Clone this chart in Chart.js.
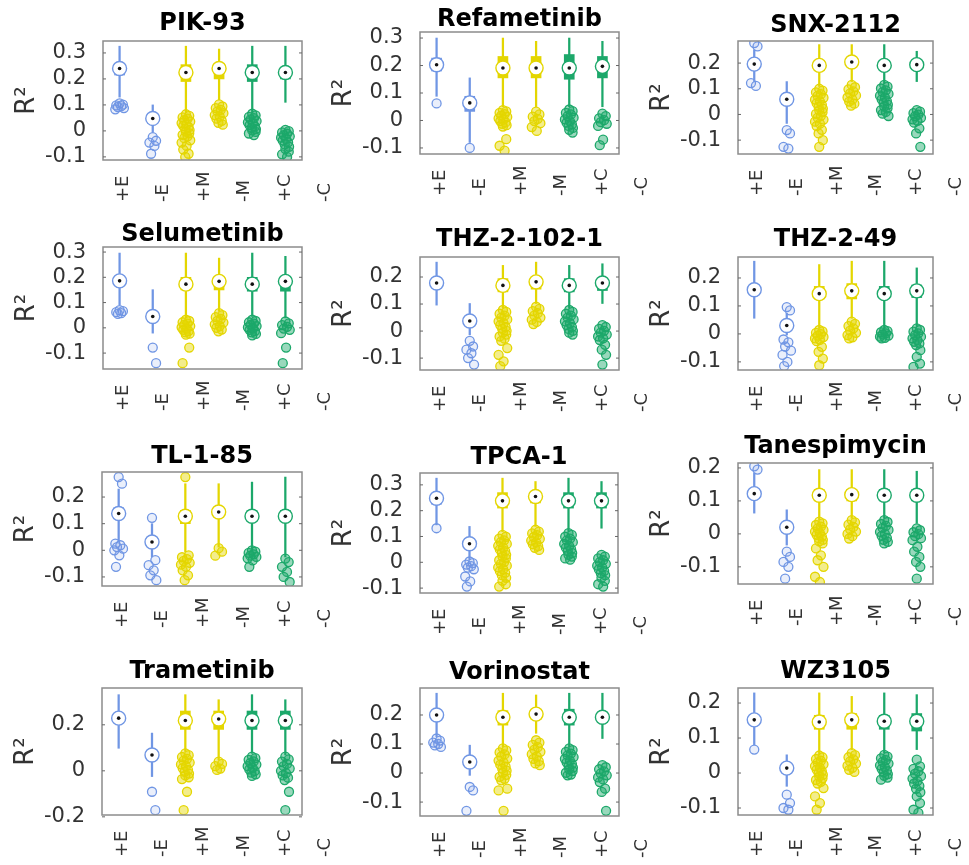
<!DOCTYPE html>
<html>
<head>
<meta charset="utf-8">
<script src="https://cdn.jsdelivr.net/npm/chart.js@4.4.1/dist/chart.umd.min.js"></script>
<style>
  html, body { margin: 0; padding: 0; background: #fff; }
  #wrap { position: relative; width: 969px; height: 865px; overflow: hidden; }
  #wrap canvas { position: absolute; }
</style>
</head>
<body>
<div id="wrap"></div>
<script>
// groups on the x axis
const groupLabels = ['+E', '-E', '+M', '-M', '+C', '-C'];

const drugNames = ['PIK-93', 'Refametinib', 'SNX-2112', 'Selumetinib', 'THZ-2-102-1', 'THZ-2-49',
  'TL-1-85', 'TPCA-1', 'Tanespimycin', 'Trametinib', 'Vorinostat', 'WZ3105'];

const yLimits = [[-0.112, 0.346], [-0.122, 0.322], [-0.154, 0.286], [-0.163, 0.32],
  [-0.144, 0.274], [-0.129, 0.275], [-0.134, 0.294], [-0.119, 0.346],
  [-0.152, 0.215], [-0.192, 0.36], [-0.148, 0.293], [-0.12, 0.243]];

const yTickValues = [[-0.1, 0, 0.1, 0.2, 0.3], [-0.1, 0, 0.1, 0.2, 0.3], [-0.1, 0, 0.1, 0.2], [-0.1, 0, 0.1, 0.2, 0.3],
  [-0.1, 0, 0.1, 0.2], [-0.1, 0, 0.1, 0.2], [-0.1, 0, 0.1, 0.2], [-0.1, 0, 0.1, 0.2, 0.3],
  [-0.1, 0, 0.1, 0.2], [-0.2, 0, 0.2], [-0.1, 0, 0.1, 0.2], [-0.1, 0, 0.1, 0.2]];

// per group: [lower whisker, q1, median, q3, upper whisker]
const pik93Stats = [[0.13, 0.215, 0.24, 0.255, 0.326], [-0.005, 0.03, 0.048, 0.06, 0.1], [0.07, 0.19, 0.225, 0.255, 0.326],
  [0.12, 0.2, 0.24, 0.26, 0.315], [0.07, 0.19, 0.225, 0.255, 0.326], [0.11, 0.2, 0.225, 0.245, 0.326]];
const pik93Outliers = [
  [0.106, 0.101, 0.098, 0.095, 0.092, 0.088, 0.083],
  [-0.024, -0.038, -0.045, -0.058, -0.088],
  [0.064, 0.058, 0.052, 0.047, 0.041, 0.036, 0.03, 0.025, 0.019, 0.014, 0.008, 0.003, -0.003, -0.009, -0.015, -0.021, -0.028, -0.036, -0.045, -0.058, -0.072, -0.088, -0.1],
  [0.102, 0.094, 0.088, 0.081, 0.075, 0.068, 0.061, 0.055, 0.047, 0.039, 0.031, 0.024],
  [0.066, 0.06, 0.054, 0.049, 0.044, 0.038, 0.033, 0.028, 0.022, 0.017, 0.012, 0.007, 0.002, -0.004, -0.01, -0.016],
  [0.004, -0.001, -0.006, -0.011, -0.016, -0.021, -0.026, -0.031, -0.037, -0.044, -0.052, -0.061, -0.07, -0.08, -0.09, -0.1]];

const refametinibStats = [[0.088, 0.18, 0.203, 0.227, 0.3], [-0.08, 0.033, 0.064, 0.088, 0.155], [0.05, 0.155, 0.191, 0.233, 0.3],
  [0.05, 0.155, 0.191, 0.233, 0.288], [0.05, 0.15, 0.191, 0.24, 0.3], [0.05, 0.155, 0.197, 0.233, 0.288]];
const refametinibOutliers = [
  [0.062],
  [-0.1],
  [0.038, 0.033, 0.028, 0.023, 0.018, 0.013, 0.008, 0.003, -0.002, -0.007, -0.012, -0.017, -0.022, -0.068, -0.092, -0.11],
  [0.032, 0.022, 0.014, 0.006, -0.002, -0.01, -0.024, -0.038],
  [0.04, 0.034, 0.028, 0.022, 0.016, 0.01, 0.004, -0.002, -0.008, -0.014, -0.02, -0.027, -0.034, -0.044],
  [0.025, 0.016, 0.008, 0.001, -0.006, -0.012, -0.02, -0.07, -0.09]];

const snx2112Stats = [[0.128, 0.18, 0.196, 0.212, 0.252], [-0.035, 0.04, 0.059, 0.075, 0.128], [0.109, 0.17, 0.191, 0.21, 0.272],
  [0.128, 0.19, 0.204, 0.22, 0.272], [0.12, 0.175, 0.191, 0.21, 0.272], [0.128, 0.18, 0.194, 0.21, 0.246]];
const snx2112Outliers = [
  [0.278, 0.265, 0.122, 0.111],
  [-0.061, -0.074, -0.126, -0.133],
  [0.1, 0.093, 0.086, 0.079, 0.072, 0.065, 0.058, 0.051, 0.044, 0.037, 0.03, 0.023, 0.016, 0.009, 0.002, -0.005, -0.012, -0.02, -0.028, -0.036, -0.045, -0.06, -0.074, -0.1, -0.126],
  [0.115, 0.106, 0.098, 0.09, 0.082, 0.074, 0.066, 0.058, 0.05, 0.042, 0.034],
  [0.115, 0.108, 0.101, 0.094, 0.087, 0.08, 0.073, 0.066, 0.059, 0.052, 0.045, 0.038, 0.031, 0.024, 0.017, 0.01, 0.003, -0.006],
  [0.017, 0.011, 0.005, -0.001, -0.007, -0.013, -0.019, -0.025, -0.032, -0.054, -0.074, -0.126]];

const selumetinibStats = [[0.091, 0.17, 0.186, 0.2, 0.296], [-0.021, 0.03, 0.045, 0.06, 0.151], [0.039, 0.15, 0.173, 0.2, 0.296],
  [0.065, 0.15, 0.184, 0.2, 0.276], [0.045, 0.145, 0.173, 0.2, 0.296], [0.039, 0.145, 0.184, 0.2, 0.283]];
const selumetinibOutliers = [
  [0.07, 0.066, 0.062, 0.058, 0.055],
  [-0.078, -0.14],
  [0.032, 0.027, 0.022, 0.017, 0.012, 0.007, 0.002, -0.003, -0.008, -0.013, -0.018, -0.023, -0.027, -0.078, -0.14],
  [0.058, 0.05, 0.042, 0.035, 0.028, 0.021, 0.014, 0.007, 0.0, -0.007, -0.014],
  [0.032, 0.027, 0.022, 0.017, 0.012, 0.007, 0.002, -0.003, -0.008, -0.013, -0.018, -0.024, -0.03],
  [0.025, 0.018, 0.011, 0.004, -0.003, -0.008, -0.021, -0.078, -0.14]];

const thz2102Stats = [[0.096, 0.16, 0.178, 0.195, 0.255], [-0.014, 0.02, 0.037, 0.05, 0.102], [0.084, 0.145, 0.169, 0.194, 0.243],
  [0.102, 0.155, 0.182, 0.2, 0.255], [0.084, 0.145, 0.169, 0.194, 0.243], [0.102, 0.15, 0.178, 0.185, 0.249]];
const thz2102Outliers = [
  [],
  [-0.036, -0.057, -0.069, -0.082, -0.1, -0.124],
  [0.078, 0.071, 0.064, 0.057, 0.05, 0.043, 0.036, 0.029, 0.022, 0.015, 0.008, 0.001, -0.006, -0.013, -0.02, -0.028, -0.036, -0.063, -0.088, -0.112, -0.13],
  [0.09, 0.082, 0.074, 0.066, 0.058, 0.05, 0.042, 0.034, 0.026],
  [0.078, 0.071, 0.064, 0.057, 0.05, 0.043, 0.036, 0.029, 0.022, 0.015, 0.008, 0.001, -0.006, -0.013],
  [0.022, 0.015, 0.008, 0.001, -0.006, -0.013, -0.02, -0.027, -0.033, -0.051, -0.069, -0.088, -0.124]];

const thz249Stats = [[0.056, 0.14, 0.158, 0.175, 0.26], [-0.004, 0.015, 0.03, 0.045, 0.074], [0.02, 0.125, 0.144, 0.17, 0.248],
  [0.056, 0.125, 0.154, 0.18, 0.26], [0.02, 0.13, 0.144, 0.17, 0.26], [0.026, 0.13, 0.154, 0.175, 0.236]];
const thz249Outliers = [
  [],
  [0.096, 0.084, -0.02, -0.03, -0.045, -0.06, -0.075, -0.1, -0.115],
  [0.014, 0.009, 0.004, -0.001, -0.006, -0.011, -0.016, -0.021, -0.026, -0.046, -0.064, -0.088, -0.112],
  [0.044, 0.036, 0.028, 0.02, 0.012, 0.004, -0.004, -0.012, -0.016],
  [0.014, 0.01, 0.006, 0.002, -0.002, -0.006, -0.01, -0.014, -0.016],
  [0.02, 0.014, 0.008, 0.002, -0.004, -0.01, -0.016, -0.022, -0.028, -0.034, -0.04, -0.058, -0.082, -0.106, -0.118]];

const tl185Stats = [[0.031, 0.12, 0.138, 0.16, 0.23], [-0.025, 0.015, 0.031, 0.05, 0.1], [-0.006, 0.1, 0.128, 0.15, 0.25],
  [0.012, 0.125, 0.144, 0.155, 0.25], [0.0, 0.11, 0.128, 0.15, 0.256], [-0.025, 0.11, 0.128, 0.15, 0.275]];
const tl185Outliers = [
  [0.275, 0.25, 0.025, 0.019, 0.012, 0.006, 0.0, -0.019, -0.062],
  [0.122, -0.037, -0.056, -0.075, -0.094, -0.112],
  [0.275, -0.019, -0.026, -0.033, -0.04, -0.047, -0.054, -0.062, -0.075, -0.094, -0.112],
  [0.008, -0.005, -0.02],
  [0.0, -0.005, -0.01, -0.015, -0.02, -0.025, -0.03, -0.038, -0.062],
  [-0.031, -0.044, -0.062, -0.081, -0.1, -0.119]];

const tpca1Stats = [[0.145, 0.225, 0.248, 0.26, 0.326], [0.01, 0.055, 0.072, 0.09, 0.139], [0.119, 0.21, 0.238, 0.27, 0.326],
  [0.139, 0.23, 0.255, 0.275, 0.313], [0.119, 0.21, 0.238, 0.27, 0.326], [0.132, 0.21, 0.238, 0.27, 0.313]];
const tpca1Outliers = [
  [0.132],
  [0.003, -0.003, -0.009, -0.015, -0.021, -0.027, -0.055, -0.074, -0.094],
  [0.106, 0.099, 0.092, 0.085, 0.078, 0.071, 0.064, 0.057, 0.05, 0.043, 0.036, 0.029, 0.022, 0.015, 0.008, 0.001, -0.006, -0.013, -0.02, -0.027, -0.034, -0.041, -0.05, -0.06, -0.072, -0.085, -0.094],
  [0.126, 0.119, 0.112, 0.105, 0.098, 0.091, 0.084, 0.077, 0.07, 0.063, 0.056, 0.048],
  [0.113, 0.106, 0.099, 0.092, 0.085, 0.078, 0.071, 0.064, 0.057, 0.05, 0.043, 0.036, 0.029, 0.022, 0.015, 0.01],
  [0.029, 0.022, 0.015, 0.008, 0.001, -0.006, -0.013, -0.02, -0.027, -0.034, -0.042, -0.05, -0.06, -0.072, -0.085, -0.094]];

const tanespimycinStats = [[0.063, 0.11, 0.122, 0.135, 0.185], [-0.034, 0.008, 0.02, 0.035, 0.073], [0.042, 0.1, 0.117, 0.135, 0.195],
  [0.047, 0.1, 0.119, 0.135, 0.195], [0.047, 0.1, 0.117, 0.135, 0.195], [0.032, 0.1, 0.117, 0.135, 0.19]];
const tanespimycinOutliers = [
  [0.205, 0.195],
  [-0.054, -0.07, -0.085, -0.1, -0.136],
  [0.037, 0.032, 0.027, 0.022, 0.017, 0.012, 0.007, 0.002, -0.003, -0.008, -0.013, -0.018, -0.023, -0.029, -0.044, -0.065, -0.08, -0.1, -0.13, -0.146],
  [0.042, 0.035, 0.028, 0.021, 0.014, 0.007, 0.0, -0.007, -0.014],
  [0.042, 0.036, 0.03, 0.024, 0.018, 0.012, 0.006, 0.0, -0.006, -0.012, -0.018, -0.024, -0.029],
  [0.017, 0.011, 0.005, -0.001, -0.007, -0.013, -0.019, -0.039, -0.054, -0.07, -0.085, -0.1, -0.136]];

const trametinibStats = [[0.098, 0.21, 0.229, 0.245, 0.331], [-0.025, 0.05, 0.069, 0.09, 0.164], [0.084, 0.18, 0.219, 0.26, 0.331],
  [0.047, 0.18, 0.225, 0.26, 0.309], [0.076, 0.18, 0.219, 0.26, 0.331], [0.069, 0.18, 0.219, 0.26, 0.309]];
const trametinibOutliers = [
  [],
  [-0.091, -0.171],
  [0.076, 0.068, 0.06, 0.052, 0.044, 0.036, 0.028, 0.02, 0.012, 0.004, -0.004, -0.012, -0.02, -0.028, -0.036, -0.091, -0.171],
  [0.04, 0.03, 0.02, 0.01, 0.004],
  [0.062, 0.055, 0.048, 0.041, 0.034, 0.027, 0.02, 0.013, 0.006, -0.001, -0.008, -0.015, -0.022],
  [0.062, 0.05, 0.04, 0.03, 0.02, 0.01, 0.0, -0.01, -0.02, -0.03, -0.04, -0.091, -0.171]];

const vorinostatStats = [[0.125, 0.185, 0.2, 0.215, 0.275], [-0.008, 0.025, 0.038, 0.05, 0.096], [0.09, 0.165, 0.192, 0.215, 0.275],
  [0.137, 0.185, 0.203, 0.22, 0.269], [0.09, 0.165, 0.192, 0.22, 0.275], [0.119, 0.175, 0.192, 0.21, 0.275]];
const vorinostatOutliers = [
  [0.119, 0.112, 0.105, 0.1, 0.095, 0.09],
  [-0.048, -0.06, -0.13],
  [0.085, 0.078, 0.071, 0.064, 0.057, 0.05, 0.043, 0.036, 0.029, 0.022, 0.015, 0.008, 0.001, -0.006, -0.013, -0.02, -0.025, -0.054, -0.06, -0.13],
  [0.113, 0.105, 0.097, 0.089, 0.081, 0.073, 0.065, 0.057, 0.049, 0.041, 0.033, 0.027],
  [0.085, 0.079, 0.073, 0.067, 0.061, 0.055, 0.049, 0.043, 0.037, 0.031, 0.025, 0.019, 0.013, 0.007, 0.001, -0.005, -0.008],
  [0.027, 0.02, 0.013, 0.006, -0.001, -0.008, -0.015, -0.022, -0.031, -0.054, -0.065, -0.13]];

const wz3105Stats = [[0.081, 0.14, 0.152, 0.165, 0.229], [-0.038, 0.0, 0.014, 0.025, 0.052], [0.052, 0.125, 0.146, 0.165, 0.229],
  [0.067, 0.125, 0.152, 0.17, 0.219], [0.057, 0.125, 0.148, 0.165, 0.229], [0.067, 0.12, 0.148, 0.17, 0.224]];
const wz3105Outliers = [
  [0.067],
  [-0.062, -0.086, -0.1, -0.105],
  [0.05, 0.045, 0.04, 0.035, 0.03, 0.025, 0.02, 0.015, 0.01, 0.005, 0.0, -0.005, -0.01, -0.015, -0.02, -0.025, -0.03, -0.043, -0.067, -0.086, -0.105],
  [0.057, 0.051, 0.045, 0.039, 0.033, 0.027, 0.021, 0.015, 0.009, 0.003],
  [0.052, 0.047, 0.042, 0.037, 0.032, 0.027, 0.022, 0.017, 0.012, 0.007, 0.002, -0.003, -0.008, -0.013, -0.019],
  [0.038, 0.019, 0.012, 0.005, -0.002, -0.009, -0.016, -0.023, -0.03, -0.037, -0.045, -0.055, -0.067, -0.086, -0.105, -0.114]];

const drugStats = [pik93Stats, refametinibStats, snx2112Stats, selumetinibStats, thz2102Stats, thz249Stats,
  tl185Stats, tpca1Stats, tanespimycinStats, trametinibStats, vorinostatStats, wz3105Stats];
const drugOutliers = [pik93Outliers, refametinibOutliers, snx2112Outliers, selumetinibOutliers, thz2102Outliers, thz249Outliers,
  tl185Outliers, tpca1Outliers, tanespimycinOutliers, trametinibOutliers, vorinostatOutliers, wz3105Outliers];

// look of the figure
const groupColors = ['#7096e4', '#7096e4', '#e4d600', '#e4d600', '#1ca86a', '#1ca86a'];
const groupFills = ['rgba(112,150,228,0.15)', 'rgba(112,150,228,0.15)', 'rgba(228,214,0,0.45)', 'rgba(228,214,0,0.45)',
  'rgba(28,168,106,0.45)', 'rgba(28,168,106,0.45)'];
const jitter = [0, 0.1, -0.1, 0.05, -0.05, 0.13, -0.13, 0.02, -0.08, 0.08, -0.02, 0.11];
// plot area of each panel: left, top, width, height, title gap
const panelRects = [
  [103, 41, 199, 119, 17], [420, 32, 199, 122, 12], [738, 41, 195, 113, 15],
  [103, 247, 199, 122, 12], [420, 257, 199, 113, 17], [738, 257, 195, 113, 17],
  [102, 472, 200, 114, 15], [420, 473, 198, 120, 15], [738, 463, 195, 121, 16],
  [102, 688, 200, 127, 16], [420, 688, 199, 128, 15], [738, 688, 195, 127, 16]];

const FONT = '"DejaVu Sans", sans-serif';
const TOP_PAD = 2, Y_AXIS_W = 100, X_AXIS_H = 55, RIGHT_PAD = 36;

const framePlugin = {
  id: 'frame',
  afterDatasetsDraw(chart) {
    const { ctx, chartArea: a, scales } = chart;
    ctx.save();
    ctx.strokeStyle = '#8c8c8c';
    ctx.lineWidth = 1.5;
    ctx.strokeRect(a.left, a.top, a.right - a.left, a.bottom - a.top);
    ctx.strokeStyle = '#666';
    ctx.lineWidth = 1;
    scales.y.ticks.forEach(t => {
      const y = scales.y.getPixelForValue(t.value);
      ctx.beginPath();
      ctx.moveTo(a.left, y); ctx.lineTo(a.left + 3, y);
      ctx.moveTo(a.right, y); ctx.lineTo(a.right - 3, y);
      ctx.stroke();
    });
    // group names, rotated, bottom aligned
    const xl = scales.xl;
    ctx.fillStyle = '#333';
    ctx.font = '18px ' + FONT;
    ctx.textAlign = 'left';
    ctx.textBaseline = 'middle';
    xl.ticks.forEach((t, i) => {
      ctx.save();
      ctx.translate(xl.getPixelForValue(t.value), a.bottom + 42);
      ctx.rotate(-Math.PI / 2);
      ctx.fillText(groupLabels[i], 0, 0);
      ctx.restore();
    });
    ctx.restore();
  }
};

const wrap = document.getElementById('wrap');

drugNames.forEach((name, i) => {
  const [pl, pt, pw, ph, gap] = panelRects[i];
  const titleBottom = Math.max(0, gap - 12);
  const headH = TOP_PAD + 24 + titleBottom;

  const canvas = document.createElement('canvas');
  canvas.width = Y_AXIS_W + pw + RIGHT_PAD;
  canvas.height = headH + ph + X_AXIS_H;
  canvas.style.left = (pl - Y_AXIS_W) + 'px';
  canvas.style.top = (pt - headH) + 'px';
  wrap.appendChild(canvas);

  const stats = drugStats[i];
  const whiskers = stats.map((s, g) => ({ x: g + 1, y: [s[0], s[4]] }));
  const boxes = stats.map((s, g) => ({ x: g + 1, y: [s[1], s[3]] }));
  const medians = stats.map((s, g) => ({ x: g + 1, y: s[2] }));
  const outPts = [], outLine = [], outFill = [];
  drugOutliers[i].forEach((vals, g) => vals.forEach((v, k) => {
    outPts.push({ x: g + 1 + jitter[k % jitter.length], y: v });
    outLine.push(groupColors[g]);
    outFill.push(groupFills[g]);
  }));

  new Chart(canvas, {
    type: 'scatter',
    data: {
      datasets: [
        { type: 'bar', data: whiskers, backgroundColor: groupColors, barThickness: 1.6, grouped: false, order: 5 },
        { type: 'bar', data: boxes, backgroundColor: groupColors, barThickness: 10, grouped: false, order: 4 },
        { data: outPts, pointRadius: 4.5, pointBorderWidth: 1.3, pointBorderColor: outLine, pointBackgroundColor: outFill, order: 3 },
        { data: medians, pointRadius: 7, pointBorderWidth: 1.4, pointBorderColor: groupColors, pointBackgroundColor: '#fff', order: 2 },
        { data: medians, pointRadius: 1.8, pointBorderWidth: 0, pointBackgroundColor: '#111', order: 1 }
      ]
    },
    options: {
      responsive: false,
      animation: false,
      devicePixelRatio: 1,
      layout: { padding: { top: TOP_PAD, right: RIGHT_PAD, left: 0, bottom: 0 } },
      plugins: {
        legend: { display: false },
        tooltip: { enabled: false },
        title: {
          display: true, text: name, color: '#000', fullSize: false,
          font: { family: FONT, size: 24, weight: 'bold', lineHeight: 1 },
          padding: { top: 0, bottom: titleBottom }
        }
      },
      scales: {
        x: { type: 'linear', display: false, min: 0.5, max: 6.5, offset: false },
        xl: {
          type: 'linear', position: 'bottom', min: 0.506, max: 5.42, offset: false,
          grid: { display: false }, border: { display: false }, ticks: { display: false },
          afterBuildTicks: s => { s.ticks = groupLabels.map((l, g) => ({ value: g + 1 })); },
          afterFit: s => { s.height = X_AXIS_H; }
        },
        y: {
          type: 'linear', min: yLimits[i][0], max: yLimits[i][1],
          grid: { display: false }, border: { display: false },
          ticks: { color: '#333', padding: 9, font: { family: FONT, size: 21 }, callback: v => String(v) },
          afterBuildTicks: s => { s.ticks = yTickValues[i].map(v => ({ value: v })); },
          afterFit: s => { s.width = Y_AXIS_W; },
          title: { display: true, text: 'R²', color: '#333', font: { family: FONT, size: 26 }, padding: { top: 9, bottom: 0 } }
        }
      }
    },
    plugins: [framePlugin]
  });
});
</script>
</body>
</html>
